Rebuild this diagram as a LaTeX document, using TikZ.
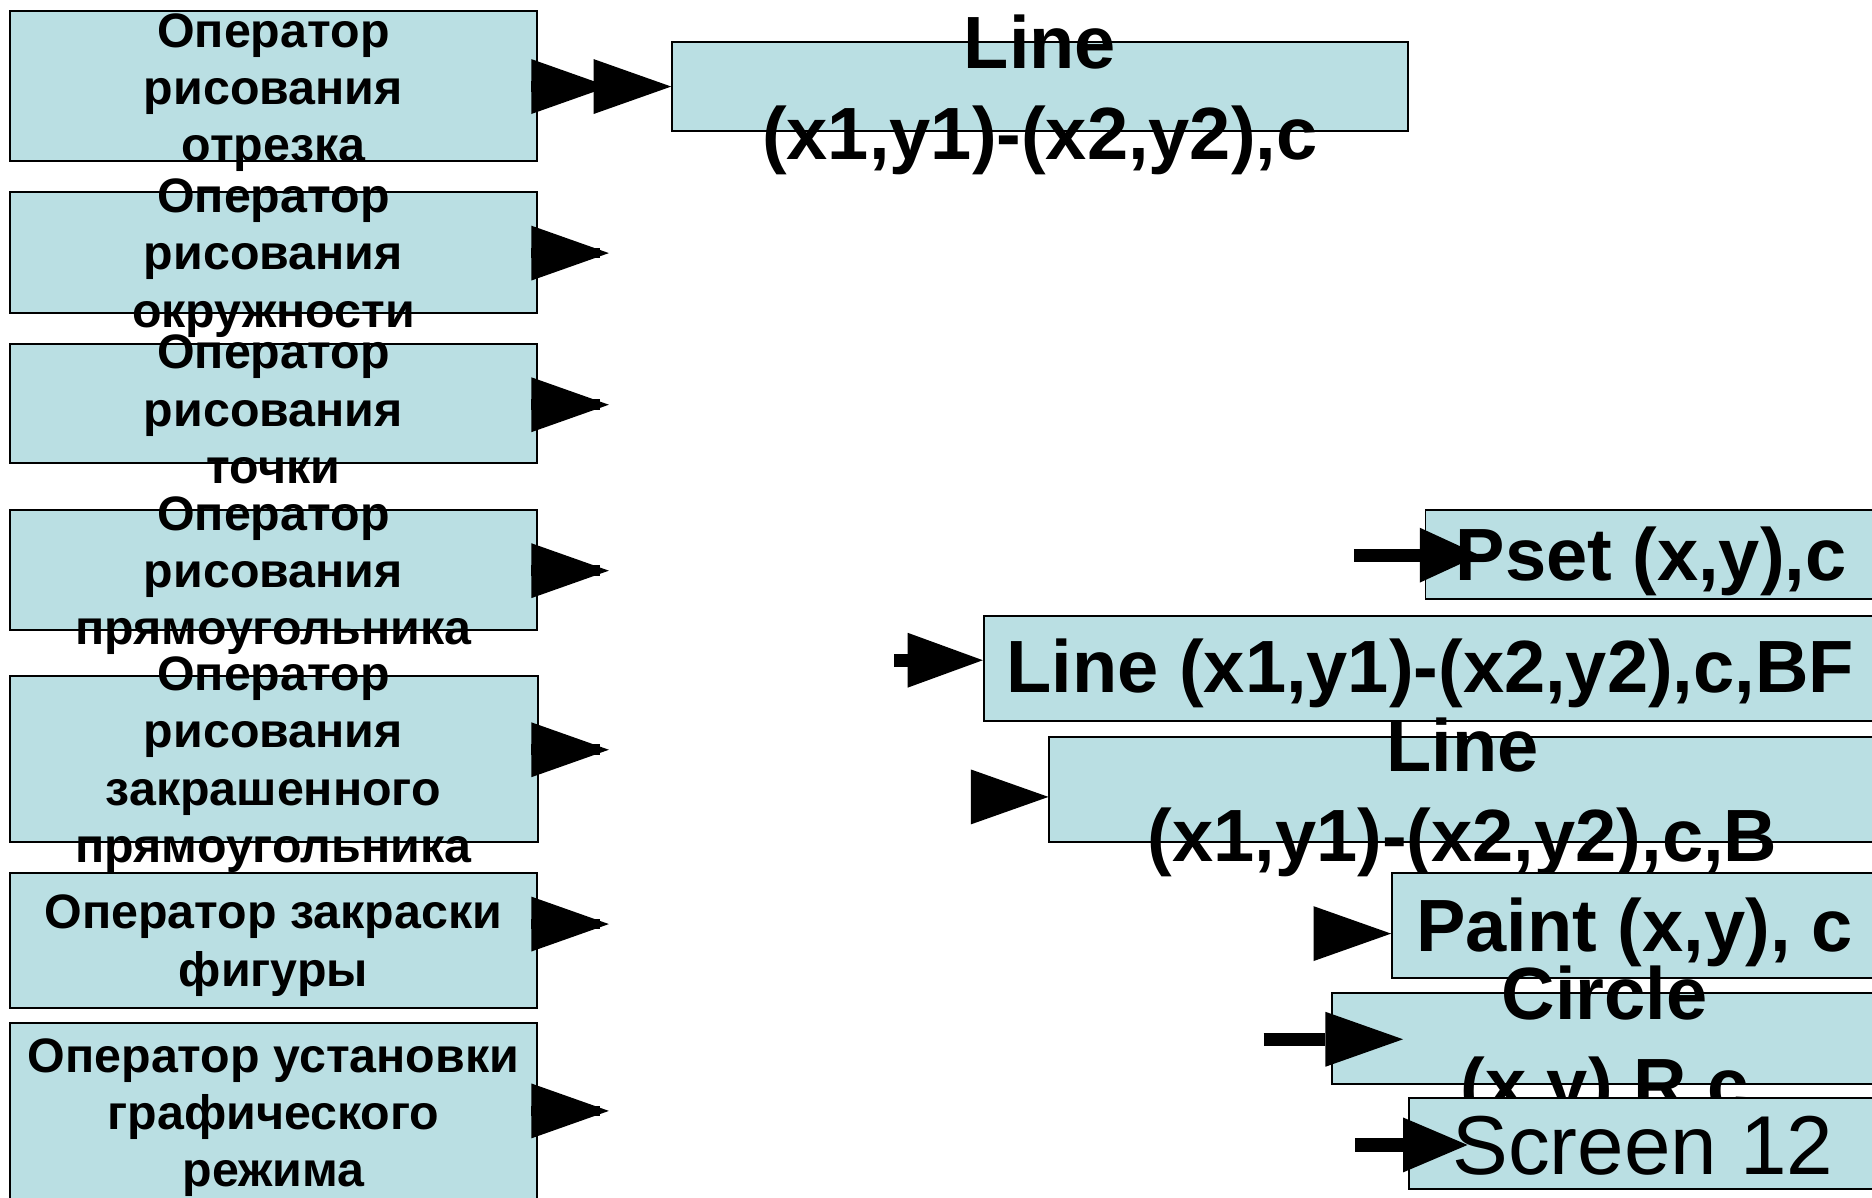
\documentclass[tikz,border=0pt]{standalone}
\usepackage{fontspec}
\setmainfont{Liberation Sans}
\usetikzlibrary{arrows.meta}
\definecolor{boxfill}{HTML}{BADFE3}
\begin{document}
\begin{tikzpicture}[x=1pt,y=-1pt,
  box/.style={draw=black, line width=1.6pt, fill=boxfill, rectangle, inner sep=0pt},
  ltext/.style={font=\fontsize{40.5}{48}\selectfont\bfseries, align=center, inner sep=0pt, yshift=-3pt},
  rtext/.style={font=\fontsize{62}{75.5}\selectfont\bfseries, align=center, inner sep=0pt, yshift=-4pt},
  stext/.style={font=\fontsize{70}{80}\selectfont, align=center, inner sep=0pt, yshift=-2pt},
  tri/.style={-{Triangle[length=#1,width=46pt,line width=0pt]}},
  lw/.style={line width=9pt},
  rw/.style={line width=11pt}]
\useasboundingbox (0,0) rectangle (1568,1003);
\fill[white] (0,0) rectangle (1568,1003);
\clip (0,0) rectangle (1568,1003);
% left boxes
\node[box, minimum width=442pt, minimum height=126pt] (bA) at (229,72) {};
\node[ltext] (tA) at (229,74.5) {Оператор\\рисования\\отрезка};
\node[box, minimum width=442pt, minimum height=101pt] (bB) at (229,211.5) {};
\node[ltext] (tB) at (229,213) {Оператор\\рисования\\окружности};
\node[box, minimum width=442pt, minimum height=100pt] (bC) at (229,338) {};
\node[ltext] (tC) at (229,340) {Оператор\\рисования\\точки};
\node[box, minimum width=442pt, minimum height=101pt] (bD) at (229,477.5) {};
\node[ltext] (tD) at (229,479) {Оператор\\рисования\\прямоугольника};
\node[box, minimum width=443pt, minimum height=139pt] (bE) at (229.5,635.5) {};
\node[ltext] (tE) at (229,637.5) {Оператор\\рисования\\закрашенного\\прямоугольника};
\node[box, minimum width=442pt, minimum height=113pt] (bF) at (229,787.5) {};
\node[ltext] (tF) at (229,789) {Оператор закраски\\фигуры};
\node[box, minimum width=442pt, minimum height=149pt] (bG) at (229,931.5) {};
\node[ltext] (tG) at (229,933) {Оператор установки\\графического\\режима};
% right boxes
\node[box, minimum width=616pt, minimum height=75pt] (lineTop) at (871,72.5) {};
\node[rtext] (tLineTop) at (871,75.5) {Line\\(x1,y1)-(x2,y2),c};
\node[box, minimum width=378pt, minimum height=75pt] (pset) at (1383,464.5) {};
\node[rtext] (tPset) at (1383,466) {Pset (x,y),c};
\node[box, minimum width=748pt, minimum height=88pt] (bf) at (1198,560) {};
\node[rtext] (tBf) at (1198,560) {Line (x1,y1)-(x2,y2),c,BF};
\node[box, minimum width=693pt, minimum height=88pt] (lb) at (1225.5,661) {};
\node[rtext] (tLb) at (1225,664) {Line\\(x1,y1)-(x2,y2),c,B};
\node[box, minimum width=406pt, minimum height=88pt] (paint) at (1369,775) {};
\node[rtext] (tPaint) at (1369,777) {Paint (x,y), c};
\node[box, minimum width=456pt, minimum height=76pt] (circ) at (1344,870) {};
\node[rtext] (tCirc) at (1344,872) {Circle\\(x,y),R,c};
\node[box, minimum width=392pt, minimum height=76pt] (scr) at (1376,958) {};
\node[stext] (tScr) at (1376,958) {Screen 12};
% left arrows
\coordinate (eA) at (510,72.5);
\coordinate (eB) at (510,212);
\coordinate (eC) at (510,339);
\coordinate (eD) at (510,478);
\coordinate (eE) at (510,628);
\coordinate (eF) at (510,774);
\coordinate (eG) at (510,930.5);
\foreach \b in {A,B,C,D,E,F,G}{
  \draw[lw] (b\b.east |- e\b) -- ([xshift=-7.5pt]e\b);
  \draw[lw, tri=65pt] (b\b.east |- e\b) -- (e\b);
}
\draw[lw, tri=65pt] (bA.east |- eA) -- (lineTop.west |- eA);
% right arrows
\coordinate (sP) at (1134,465);
\coordinate (sBf) at (749,553);
\coordinate (sLb) at (814,667.5);
\coordinate (sPa) at (1101,782);
\coordinate (sCi) at (1058.5,870.5);
\coordinate (sSc) at (1135,959);
\draw[rw, tri=50pt, shorten >=-46pt] (sP) -- (sP -| pset.west);
\draw[rw, tri=63pt] (sBf) -- (sBf -| bf.west);
\draw[rw, tri=65pt] (sLb) -- (sLb -| lb.west);
\draw[rw, tri=65pt] (sPa) -- (sPa -| paint.west);
\draw[rw, tri=65pt, shorten >=-60pt] (sCi) -- (sCi -| circ.west);
\draw[rw, tri=54pt, shorten >=-50pt] (sSc) -- (sSc -| scr.west);
\end{tikzpicture}
\end{document}
